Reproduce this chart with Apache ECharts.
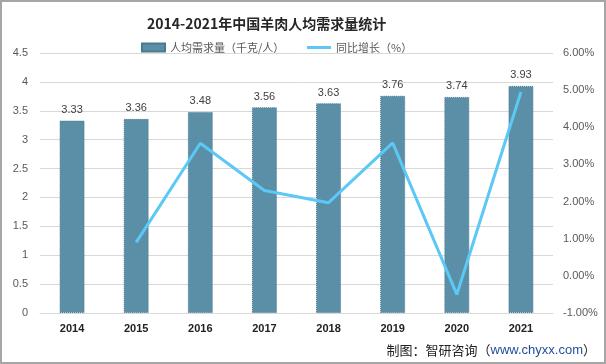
<!DOCTYPE html>
<html><head><meta charset="utf-8">
<script src="https://cdn.jsdelivr.net/npm/echarts@6/dist/echarts.min.js"></script>
<style>html,body{margin:0;padding:0;background:#fff}#c{width:606px;height:364px;box-sizing:border-box;border:2px solid #a6a6a6}</style>
</head><body><div id="c"></div>
<script>
const years = ['2014','2015','2016','2017','2018','2019','2020','2021'];
const demand = [3.33,3.36,3.48,3.56,3.63,3.76,3.74,3.93];
const growth = [null,0.90,3.57,2.30,1.97,3.58,-0.50,4.95];
const leftTicks = {min:0,max:4.5,interval:0.5};
const rightTicks = {min:-1,max:6,interval:1};

const chart = echarts.init(document.getElementById('c'));
chart.setOption({
  animation:false,
  title:{text:'2014-2021年中国羊肉人均需求量统计',left:140,top:10,
    textStyle:{fontSize:14,fontWeight:'bold',color:'#262626',fontFamily:'Noto Sans CJK SC'}},
  legend:[
    {top:35,left:134,itemWidth:23,itemHeight:8,
      textStyle:{fontSize:11,color:'#595959',fontFamily:'Noto Sans CJK SC'},
      data:[{name:'人均需求量（千克/人）',icon:'rect'}]},
    {top:35,left:300,itemWidth:24,itemHeight:3,
      textStyle:{fontSize:11,color:'#595959',fontFamily:'Noto Sans CJK SC'},
      data:[{name:'同比增长（%）',icon:'rect'}]}
  ],
  grid:{left:38,right:51,top:51,bottom:49},
  xAxis:{type:'category',data:years,
    axisLine:{lineStyle:{color:'#d9d9d9'}},axisTick:{show:false},
    axisLabel:{fontSize:11,fontWeight:'bold',color:'#222',margin:10,fontFamily:'Liberation Sans'}},
  yAxis:[
    {type:'value',min:leftTicks.min,max:leftTicks.max,interval:leftTicks.interval,
      axisLine:{show:false},axisTick:{show:false},
      axisLabel:{fontSize:11,color:'#595959',margin:12,fontFamily:'Liberation Sans'},
      splitLine:{lineStyle:{color:'#d9d9d9'}}},
    {type:'value',min:rightTicks.min,max:rightTicks.max,interval:rightTicks.interval,
      axisLine:{show:false},axisTick:{show:false},splitLine:{show:false},
      axisLabel:{fontSize:11,color:'#595959',margin:10,fontFamily:'Liberation Sans',
        formatter:v=>v.toFixed(2)+'%'}}
  ],
  series:[
    {name:'人均需求量（千克/人）',type:'bar',data:demand,barWidth:25,
      itemStyle:{color:'#5b8fa8',borderColor:'#4a7a92',borderWidth:1,borderType:'dotted'},
      label:{show:true,position:'top',fontSize:11,color:'#404040',distance:5,fontFamily:'Liberation Sans',
        formatter:p=>p.value.toFixed(2)}},
    {name:'同比增长（%）',type:'line',yAxisIndex:1,data:growth,showSymbol:false,symbol:'none',
      lineStyle:{color:'#5bc8f5',width:3},itemStyle:{color:'#5bc8f5'}}
  ],
  graphic:[
    {type:'text',right:8,bottom:5,style:{rich:{a:{fontSize:13,fill:'#222',fontFamily:'Noto Sans CJK SC'},b:{fontSize:13,fill:'#1f4e99',fontFamily:'Liberation Sans'}},
      text:'{a|制图：智研咨询（}{b|www.chyxx.com}{a|）}'}}
  ]
});
</script></body></html>
